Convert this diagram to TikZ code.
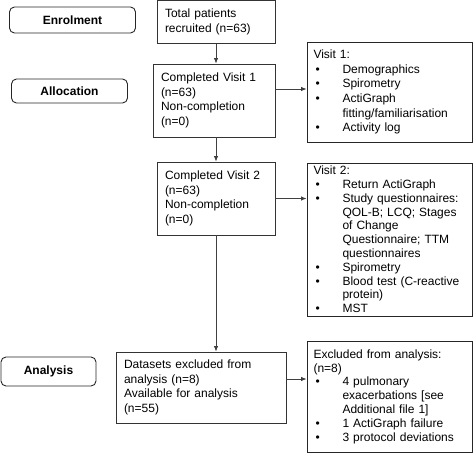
\documentclass[tikz,border=0pt]{standalone}
\usepackage{fontspec}
\setmainfont{Liberation Sans}
\usepackage{tikz}
\usetikzlibrary{calc,positioning,arrows.meta}
\tikzset{
	->,
	>={Latex[length=5.5pt,width=4.5pt]},
	stage/.style={draw=black!85, line width=0.9pt, rounded corners=5pt, font=\fontsize{12}{14.6}\selectfont\bfseries, align=center, inner sep=0pt},
	flowbox/.style={draw=black!80, line width=0.9pt, align=left, inner xsep=8pt, inner ysep=0pt},
	infobox/.style={draw=black!85, line width=0.9pt, text width=152pt, inner xsep=6.5pt, inner ysep=0pt},
	conn/.style={draw=linegray, line width=0.8pt},
}
\definecolor{linegray}{rgb}{0.25,0.25,0.25}
\newcommand{\bulletlabel}[1]{\hspace{2pt}#1\hfil}
\newenvironment{checklist}{\begin{list}{\textbullet}{\setlength{\leftmargin}{29pt}\setlength{\labelwidth}{10pt}\setlength{\labelsep}{19pt}\setlength{\topsep}{0pt}\setlength{\partopsep}{0pt}\setlength{\parsep}{0pt}\setlength{\itemsep}{0pt}\let\makelabel\bulletlabel}}{\end{list}}

\begin{document}
\begin{tikzpicture}[
			x=1pt, y=-1pt,
			font=\fontsize{12}{14.6}\selectfont
		]
		\useasboundingbox (0,0) rectangle (473,463);
		% stage labels
		\node[stage, minimum width=126pt, minimum height=26pt] (enrol) at (72.5,20) {Enrolment};
		\node[stage, minimum width=116pt, minimum height=24pt] (alloc) at (69.5,91) {Allocation};
		\node[stage, minimum width=95pt, minimum height=29pt] (analys) at (48.5,371.5) {Analysis};
		% main flow
		\node[flowbox, text width=102pt, minimum height=43pt] (total) at (216,22) {Total patients\\recruited (n=63)};
		\node[flowbox, text width=106pt, minimum height=73pt] (visit1) at (214,100.5) {Completed Visit 1\\(n=63)\\Non-completion\\(n=0)};
		\node[flowbox, text width=102pt, minimum height=73pt] (visit2) at (216,198.5) {Completed Visit 2\\(n=63)\\Non-completion\\(n=0)};
		\node[flowbox, text width=154pt, minimum height=71pt] (data) at (201,387.5) {Datasets excluded from\\analysis (n=8)\\Available for analysis\\(n=55)};
		% side boxes
		\node[infobox, minimum height=100pt] (v1info) at (389.5,92) {Visit 1:
			\begin{checklist}
				\item Demographics
				\item Spirometry
				\item ActiGraph\newline fitting/familiarisation
				\item Activity log
			\end{checklist}};
		\node[infobox, minimum height=153pt, font=\fontsize{12}{13.8}\selectfont] (v2info) at (389.5,239.5) {Visit 2:
			\begin{checklist}
				\item Return ActiGraph
				\item Study questionnaires:\newline QOL-B; LCQ; Stages\newline of Change\newline Questionnaire; TTM\newline questionnaires
				\item Spirometry
				\item Blood test (C-reactive\newline protein)
				\item MST
			\end{checklist}};
		\node[infobox, minimum height=111pt, font=\fontsize{12}{13.8}\selectfont] (excl) at (389.5,396.5) {Excluded from analysis:\newline (n=8)
			\begin{checklist}
				\item 4 pulmonary\newline exacerbations [see\newline Additional file 1]
				\item 1 ActiGraph failure
				\item 3 protocol deviations
			\end{checklist}};
		% arrows
		\draw[conn] (total.south) -- (total.south |- visit1.north);
		\draw[conn] (visit1.south -| visit2.north) -- (visit2.north);
		\draw[conn] (visit2.south) -- (visit2.south |- data.north);
		\draw[conn] ([yshift=11.5pt]visit1.east) -- ([yshift=11.5pt]visit1.east -| v1info.west);
		\draw[conn] (visit2.east) -- (visit2.east -| v2info.west);
		\draw[conn] ([yshift=8.5pt]data.east) -- ([yshift=8.5pt]data.east -| excl.west);
	\end{tikzpicture}
\end{document}
